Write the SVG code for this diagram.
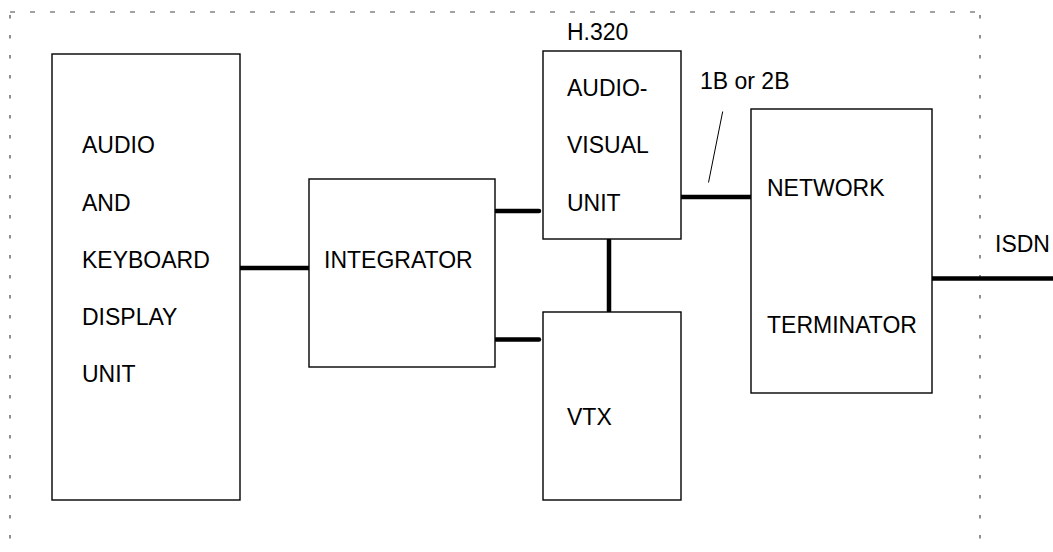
<svg xmlns="http://www.w3.org/2000/svg" width="1053" height="552" viewBox="0 0 1053 552">
<style>
.box{fill:#fff;stroke:#000;stroke-width:1.4}
.t{font-family:"Liberation Sans",Arial,sans-serif;font-size:23px;fill:#000}
.c{stroke:#000;stroke-width:4.5;stroke-linecap:round;fill:none}
.b{stroke:#444;stroke-width:1.2;fill:none}
</style>
<rect width="1053" height="552" fill="#fff"/>
<g id="border">
<line class="b" x1="10" y1="12" x2="980" y2="12" stroke-dasharray="5 15"/>
<line class="b" x1="10" y1="15" x2="10" y2="552" stroke-dasharray="3.5 16.5"/>
<line class="b" x1="980" y1="15" x2="980" y2="552" stroke-dasharray="3.5 16.5"/>
</g>
<g id="connectors">
<line class="c" x1="238" y1="268" x2="309" y2="268"/>
<line class="c" x1="496" y1="211" x2="539" y2="211"/>
<line class="c" x1="496" y1="339.5" x2="539" y2="339.5"/>
<line class="c" x1="609" y1="240" x2="609" y2="311"/>
<line class="c" x1="680" y1="197" x2="752" y2="197"/>
<line class="c" x1="932" y1="278.5" x2="1053" y2="278.5"/>
<line x1="722.7" y1="111.5" x2="708.5" y2="182.5" stroke="#000" stroke-width="1"/>
<text class="t" x="700" y="89">1B or 2B</text>
<text class="t" x="995" y="252">ISDN</text>
</g>
<g id="av-keyboard-display">
<rect class="box" x="52" y="54" width="188" height="446"/>
<text class="t" x="82" y="153">AUDIO</text>
<text class="t" x="82" y="210.5">AND</text>
<text class="t" x="82" y="268">KEYBOARD</text>
<text class="t" x="82" y="325">DISPLAY</text>
<text class="t" x="82" y="382">UNIT</text>
</g>
<g id="integrator">
<rect class="box" x="309" y="179" width="186" height="188"/>
<text class="t" x="324" y="268">INTEGRATOR</text>
</g>
<g id="av-unit">
<text class="t" x="567" y="40">H.320</text>
<rect class="box" x="543" y="51" width="138" height="188"/>
<text class="t" x="567" y="96">AUDIO-</text>
<text class="t" x="567" y="153">VISUAL</text>
<text class="t" x="567" y="211">UNIT</text>
</g>
<g id="vtx">
<rect class="box" x="543" y="312" width="138" height="188"/>
<text class="t" x="567" y="425">VTX</text>
</g>
<g id="network-terminator">
<rect class="box" x="751" y="109" width="181" height="284"/>
<text class="t" x="767" y="196">NETWORK</text>
<text class="t" x="767" y="333">TERMINATOR</text>
</g>
</svg>
